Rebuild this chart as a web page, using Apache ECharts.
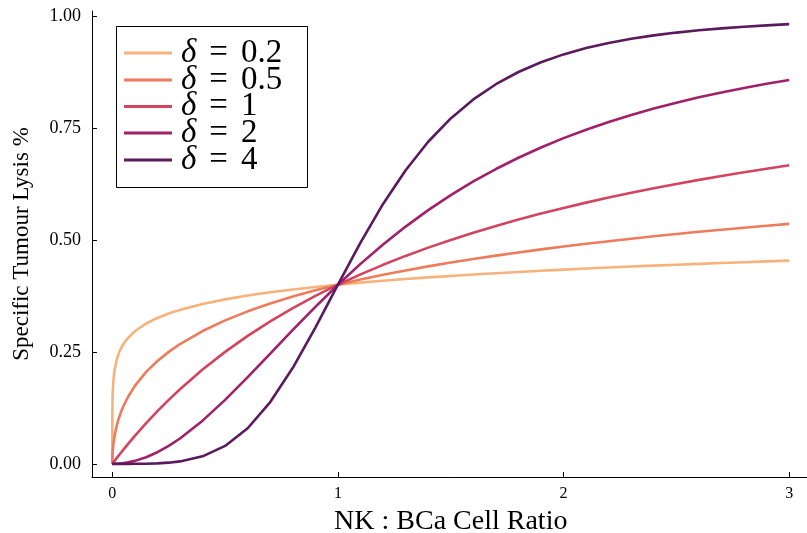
<!DOCTYPE html>
<html>
<head>
<meta charset="utf-8">
<script src="https://cdn.jsdelivr.net/npm/echarts@6/dist/echarts.min.js"></script>
<style>
  html, body { margin: 0; padding: 0; background: #fff; overflow: hidden; }
  #chart { width: 807px; height: 533px; }
</style>
</head>
<body>
<div id="chart"></div>
<script>
// NK : BCa ratio sample points (denser near zero where the low-δ curves rise steeply)
const ratios = [0, 0.0002, 0.001, 0.002, 0.005, 0.01, 0.02, 0.03, 0.04, 0.05, 0.07, 0.1, 0.15, 0.2, 0.25, 0.3,
  0.4, 0.5, 0.6, 0.7, 0.8, 0.9, 1.0, 1.1, 1.2, 1.3, 1.4, 1.5, 1.6, 1.7, 1.8, 1.9,
  2.0, 2.1, 2.2, 2.3, 2.4, 2.5, 2.6, 2.7, 2.8, 2.9, 3.0];

// specific lysis for each Hill coefficient δ
const lysisD02 = [0, 0.1083, 0.1434, 0.1613, 0.1877, 0.2097, 0.2336, 0.2485, 0.2594, 0.2680, 0.2814, 0.2961,
  0.3133, 0.3258, 0.3357, 0.3438,
  0.3569, 0.3672, 0.3758, 0.3830, 0.3893, 0.3949, 0.4000, 0.4046, 0.4088, 0.4127, 0.4163, 0.4196, 0.4228,
  0.4257, 0.4285, 0.4312, 0.4337, 0.4361, 0.4384, 0.4406, 0.4427, 0.4447, 0.4466, 0.4485, 0.4503, 0.4520, 0.4537];
const lysisD05 = [0, 0.0093, 0.0206, 0.0290, 0.0450, 0.0625, 0.0862, 0.1035, 0.1176, 0.1297, 0.1499, 0.1741,
  0.2052, 0.2297, 0.2500, 0.2675,
  0.2966, 0.3204, 0.3405, 0.3581, 0.3735, 0.3874, 0.4000, 0.4115, 0.4221, 0.4319, 0.4410, 0.4495, 0.4575,
  0.4650, 0.4721, 0.4789, 0.4853, 0.4914, 0.4972, 0.5028, 0.5081, 0.5132, 0.5181, 0.5228, 0.5273, 0.5317, 0.5359];
const lysisD1 = [0, 0.0001, 0.0007, 0.0013, 0.0033, 0.0066, 0.0132, 0.0196, 0.0260, 0.0323, 0.0446, 0.0625,
  0.0909, 0.1176, 0.1429, 0.1667,
  0.2105, 0.2500, 0.2857, 0.3182, 0.3478, 0.3750, 0.4000, 0.4231, 0.4444, 0.4643, 0.4828, 0.5000, 0.5161,
  0.5313, 0.5455, 0.5588, 0.5714, 0.5833, 0.5946, 0.6053, 0.6154, 0.6250, 0.6341, 0.6429, 0.6512, 0.6591, 0.6667];
const lysisD2 = [0, 0, 0, 0, 0.00002, 0.00007, 0.00027, 0.0006, 0.0011, 0.0017, 0.0033, 0.0066,
  0.0148, 0.0260, 0.0400, 0.0566,
  0.0964, 0.1429, 0.1935, 0.2462, 0.2991, 0.3506, 0.4000, 0.4465, 0.4898, 0.5298, 0.5665, 0.6000, 0.6305,
  0.6583, 0.6835, 0.7065, 0.7273, 0.7462, 0.7634, 0.7791, 0.7934, 0.8065, 0.8184, 0.8294, 0.8394, 0.8486, 0.8571];
const lysisD4 = [0, 0, 0, 0, 0, 0, 0, 0, 0, 0, 0.00002, 0.00007,
  0.0003, 0.0011, 0.0026, 0.0054,
  0.0168, 0.0400, 0.0795, 0.1380, 0.2145, 0.3043, 0.4000, 0.4939, 0.5803, 0.6557, 0.7192, 0.7714, 0.8137,
  0.8477, 0.8750, 0.8968, 0.9143, 0.9284, 0.9398, 0.9491, 0.9567, 0.9630, 0.9682, 0.9725, 0.9762, 0.9792, 0.9818];

const deltaLabels = ['0.2', '0.5', '1', '2', '4'];
const xTicks = [0, 1, 2, 3];
const yTicks = [0, 0.25, 0.5, 0.75, 1.0];

const curves = [lysisD02, lysisD05, lysisD1, lysisD2, lysisD4];
const colors = ['#f7b27b', '#ee7b5b', '#d3455e', '#a02169', '#5b1a5d'];
const serif = '"Liberation Serif", "DejaVu Serif", serif';

// legend rows: vertical centre of each entry
const legendRowY = [53, 80, 106.5, 133, 160];
const legendFont = 33;

const chart = echarts.init(document.getElementById('chart'), null, { renderer: 'canvas' });

chart.setOption({
  animation: false,
  backgroundColor: '#ffffff',
  grid: { left: 92, right: -2.5, top: 11, bottom: 56, containLabel: false, outerBoundsMode: 'none' },
  xAxis: {
    type: 'value',
    min: -0.09, max: 3.09,
    name: 'NK : BCa Cell Ratio',
    nameLocation: 'middle',
    nameGap: 31,
    nameTextStyle: { fontFamily: serif, fontSize: 28, color: '#000' },
    axisLine: { onZero: false, lineStyle: { color: '#000', width: 1 } },
    axisTick: { inside: true, length: 5, customValues: xTicks, lineStyle: { color: '#000' } },
    axisLabel: { customValues: xTicks, margin: 9, fontFamily: serif, fontSize: 16, color: '#000' },
    splitLine: { show: false }
  },
  yAxis: {
    type: 'value',
    min: -0.0294, max: 1.0112,
    name: 'Specific Tumour Lysis %',
    nameLocation: 'middle',
    nameGap: 59,
    nameTextStyle: { fontFamily: serif, fontSize: 23, color: '#000' },
    axisLine: { onZero: false, lineStyle: { color: '#000', width: 1 } },
    axisTick: { inside: true, length: 5, customValues: yTicks, lineStyle: { color: '#000' } },
    axisLabel: {
      customValues: yTicks, margin: 11, fontFamily: serif, fontSize: 18, color: '#000',
      formatter: v => v.toFixed(2)
    },
    splitLine: { show: false }
  },
  // one legend row per series so each row sits at its own height
  legend: deltaLabels.map((name, i) => ({
    orient: 'vertical',
    left: 124,
    top: legendRowY[i] - legendFont / 2,
    padding: 0,
    itemGap: 0,
    itemWidth: 48,
    itemHeight: 3,
    icon: 'rect',
    data: [name],
    formatter: n => '{g|δ}{e|=}{v|' + n + '}',
    textStyle: {
      fontFamily: serif, fontSize: legendFont, color: '#000', lineHeight: legendFont,
      rich: {
        g: { fontFamily: serif, fontStyle: 'italic', fontSize: legendFont, lineHeight: legendFont, padding: [0, 0, 0, 4] },
        e: { fontFamily: serif, fontSize: legendFont, lineHeight: legendFont, padding: [0, 13, 0, 13] },
        v: { fontFamily: serif, fontSize: legendFont, lineHeight: legendFont }
      }
    }
  })),
  graphic: [{
    type: 'rect',
    z: -1,
    shape: { x: 116.5, y: 26.5, width: 191, height: 161 },
    style: { fill: '#fff', stroke: '#000', lineWidth: 1 }
  }],
  series: curves.map((ys, i) => ({
    name: deltaLabels[i],
    type: 'line',
    data: ratios.map((x, j) => [x, ys[j]]),
    showSymbol: false,
    symbol: 'none',
    smooth: false,
    color: colors[i],
    lineStyle: { width: 2.6, color: colors[i] },
    z: 2 + i
  }))
});
</script>
</body>
</html>
